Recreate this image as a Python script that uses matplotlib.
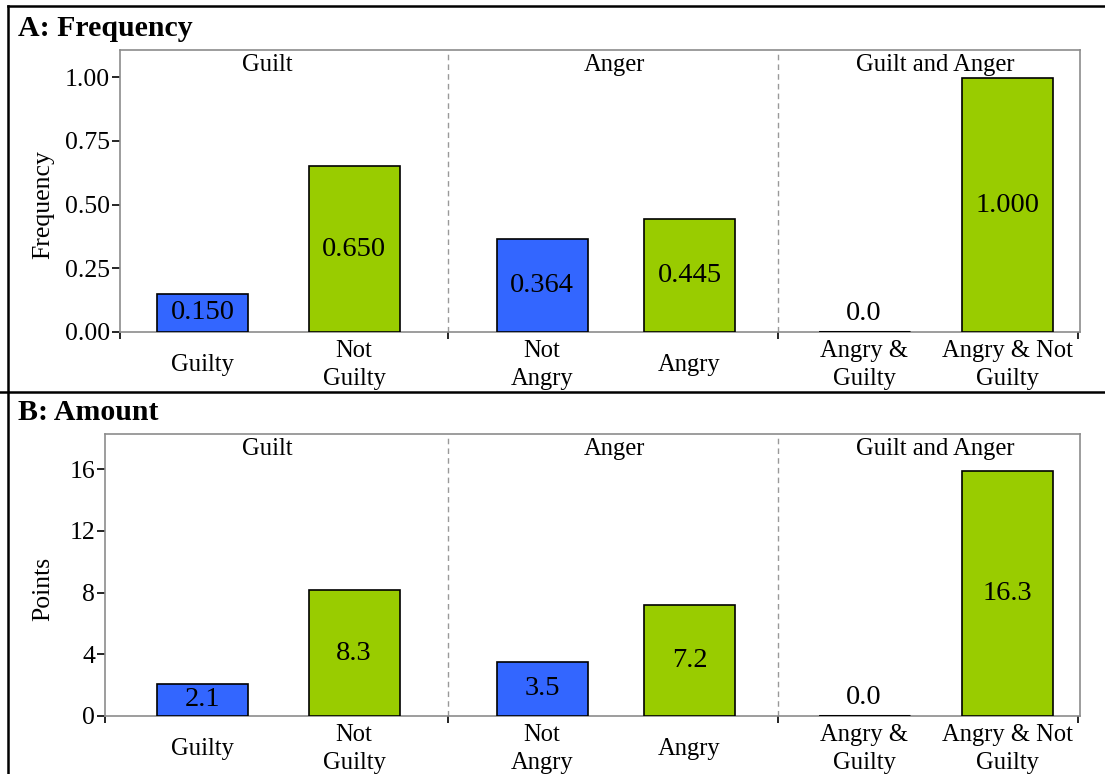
import matplotlib
matplotlib.use("Agg")
import matplotlib.pyplot as plt
from matplotlib.lines import Line2D

# ---------------- data ----------------
categories = ["Guilty", "Not\nGuilty", "Not\nAngry", "Angry", "Angry &\nGuilty", "Angry & Not\nGuilty"]
groups = ["Guilt", "Anger", "Guilt and Anger"]
bar_colors = ["#3366FF", "#99CC00", "#3366FF", "#99CC00", "#3366FF", "#99CC00"]

freq_values = [0.150, 0.650, 0.364, 0.445, 0.0, 0.995]
freq_labels = ["0.150", "0.650", "0.364", "0.445", "0.0", "1.000"]
freq_ticks = [0.00, 0.25, 0.50, 0.75, 1.00]
freq_ticklabels = ["0.00", "0.25", "0.50", "0.75", "1.00"]

amount_values = [2.1, 8.15, 3.5, 7.2, 0.0, 15.9]
amount_labels = ["2.1", "8.3", "3.5", "7.2", "0.0", "16.3"]
amount_ticks = [0, 4, 8, 12, 16]
amount_ticklabels = ["0", "4", "8", "12", "16"]

# ---------------- layout (pixel-based x scale) ----------------
W, H = 1105, 774
bar_x = [202.5, 354, 542, 689.5, 864, 1007.5]
bar_w = 91
group_edges = [448, 778]
group_label_x = [267, 614, 935]
x_right = 1080

FS_TICK = 18.5
FS_CAT = 17.7
FS_GROUP = 17.7
FS_VAL = 20.5
FS_YLAB = 18.5
FS_TITLE = 21.5

plt.rcParams["font.family"] = ["Liberation Serif", "DejaVu Serif"]

fig = plt.figure(figsize=(W / 100, H / 100), dpi=100)

def fx(px):
    return px / W

def fy(py):
    return 1 - py / H

SPINE = "#8c8c8c"

def draw_panel(left_px, top_px, bottom_px, values, labels, ylim, ticks, ticklabels, ylabel):
    ax = fig.add_axes([fx(left_px), fy(bottom_px), fx(x_right - left_px), (bottom_px - top_px) / H])
    ax.set_xlim(left_px, x_right)
    ax.set_ylim(0, ylim)
    for s in ax.spines.values():
        s.set_color(SPINE)
        s.set_linewidth(1.2)
    ax.bar(bar_x, values, width=bar_w, color=bar_colors, edgecolor="black",
           linewidth=1.2, zorder=3)
    # zero bars -> thick black line
    for x, v in zip(bar_x, values):
        if v == 0:
            ax.plot([x - bar_w / 2, x + bar_w / 2], [0, 0], color="black", lw=2.2,
                    zorder=4, solid_capstyle="butt")
    # value labels
    for x, v, lab in zip(bar_x, values, labels):
        if v == 0:
            ax.annotate(lab, (x, 0), xytext=(0, 18), textcoords="offset pixels",
                        ha="center", va="center", fontsize=FS_VAL)
        else:
            ax.text(x, v / 2, lab, ha="center", va="center", fontsize=FS_VAL, zorder=5)
    # separators
    for e in group_edges:
        ax.axvline(e, color="#999999", lw=1.0, ls=(0, (4, 3)), zorder=1)
    # group labels
    for gx, g in zip(group_label_x, groups):
        ax.annotate(g, (gx, 1), xycoords=("data", "axes fraction"), xytext=(0, -15),
                    textcoords="offset pixels", ha="center", va="center", fontsize=FS_GROUP)
    # y ticks
    ax.set_yticks(ticks)
    ax.set_yticklabels(ticklabels, fontsize=FS_TICK)
    ax.tick_params(axis="y", direction="out", length=6, width=1.2, color="black", pad=1)
    # x ticks at group boundaries
    ax.set_xticks([left_px] + group_edges + [x_right - 2])
    ax.set_xticklabels([])
    ax.tick_params(axis="x", direction="out", length=5, width=1.2, color="black")
    # category labels
    for x, c in zip(bar_x, categories):
        ax.annotate(c, (x, 0), xytext=(0, -33), textcoords="offset pixels",
                    ha="center", va="center", fontsize=FS_CAT, linespacing=1.3)
    fig.text(fx(43), fy((top_px + bottom_px) / 2 + 14), ylabel, rotation=90,
             ha="center", va="center", fontsize=FS_YLAB)
    return ax

draw_panel(120, 50, 332, freq_values, freq_labels, 1.106, freq_ticks, freq_ticklabels, "Frequency")
draw_panel(105, 434, 716, amount_values, amount_labels, 18.27, amount_ticks, amount_ticklabels, "Points")

# panel titles
fig.text(fx(18), fy(28), "A: Frequency", ha="left", va="center", fontsize=FS_TITLE, fontweight="bold")
fig.text(fx(18), fy(412), "B: Amount", ha="left", va="center", fontsize=FS_TITLE, fontweight="bold")

# outer frame lines
for line in [
    Line2D([fx(8), 1], [fy(6), fy(6)], transform=fig.transFigure, color="black", lw=1.8),
    Line2D([fx(8), fx(8)], [fy(6), 0], transform=fig.transFigure, color="black", lw=1.8),
    Line2D([0, 1], [fy(392), fy(392)], transform=fig.transFigure, color="black", lw=1.8),
]:
    fig.add_artist(line)

fig.savefig("out.png", dpi=100)
